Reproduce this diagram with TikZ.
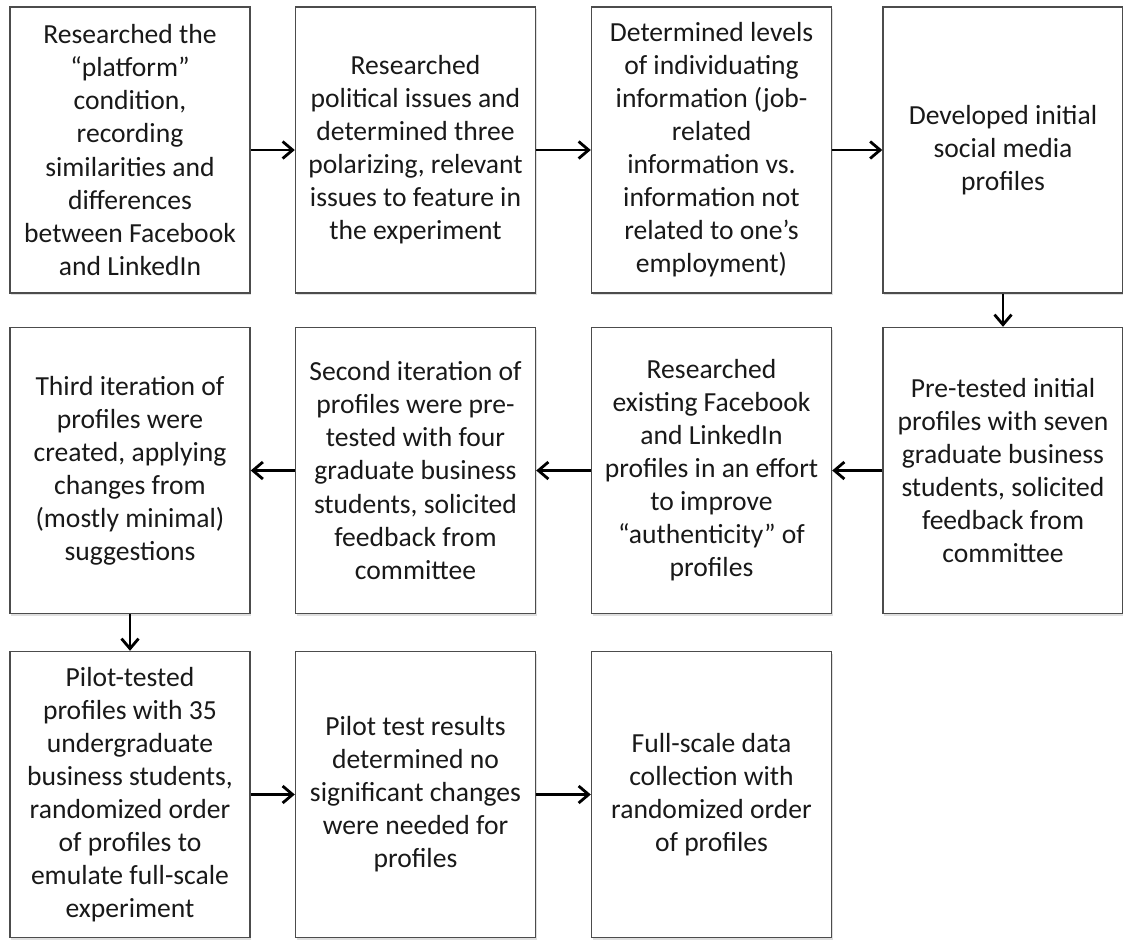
\documentclass[tikz,border=0pt]{standalone}
\usepackage{fontspec}
\setmainfont{Carlito}
\usetikzlibrary{arrows.meta,shadows}

\tikzset{
  stage/.style={draw=black!70, line width=0.8pt, fill=white,
    minimum width=4.8cm, minimum height=5.72cm, align=center,
    text=black!90, font=\fontsize{15.7}{18.8}\selectfont,
    drop shadow={shadow xshift=0.02cm, shadow yshift=-0.04cm, opacity=0.25}},
  flow/.style={line width=1.6pt, -{Straight Barb[length=0.2cm,width=0.34cm]}}
}

\begin{document}
\begin{tikzpicture}
    \useasboundingbox (0,0) rectangle (22.46,-18.78);

    % Top row
    \node[stage] (research) at (2.6,-3) {Researched the\\“platform”\\condition,\\recording\\similarities and\\differences\\between Facebook\\and LinkedIn};
    \node[stage] (issues) at (8.31,-3) {Researched\\political issues and\\determined three\\polarizing, relevant\\issues to feature in\\the experiment};
    \node[stage] (levels) at (14.23,-3) {Determined levels\\of individuating\\information (job-\\related\\information vs.\\information not\\related to one’s\\employment)};
    \node[stage] (develop) at (20.06,-3) {Developed initial\\social media\\profiles};

    % Middle row
    \node[stage] (pretest) at (20.06,-9.41) {Pre-tested initial\\profiles with seven\\graduate business\\students, solicited\\feedback from\\committee};
    \node[stage] (authentic) at (14.23,-9.41) {Researched\\existing Facebook\\and LinkedIn\\profiles in an effort\\to improve\\“authenticity” of\\profiles};
    \node[stage] (second) at (8.31,-9.41) {Second iteration of\\profiles were pre-\\tested with four\\graduate business\\students, solicited\\feedback from\\committee};
    \node[stage] (third) at (2.6,-9.41) {Third iteration of\\profiles were\\created, applying\\changes from\\(mostly minimal)\\suggestions};

    % Bottom row
    \node[stage] (pilot) at (2.6,-15.89) {Pilot-tested\\profiles with 35\\undergraduate\\business students,\\randomized order\\of profiles to\\emulate full-scale\\experiment};
    \node[stage] (results) at (8.31,-15.89) {Pilot test results\\determined no\\significant changes\\were needed for\\profiles};
    \node[stage] (fullscale) at (14.23,-15.89) {Full-scale data\\collection with\\randomized order\\of profiles};

    % Connectors
    \draw[flow] (research) -- (issues);
    \draw[flow] (issues) -- (levels);
    \draw[flow] (levels) -- (develop);
    \draw[flow] (develop) -- (pretest);
    \draw[flow] (pretest) -- (authentic);
    \draw[flow] (authentic) -- (second);
    \draw[flow] (second) -- (third);
    \draw[flow] (third) -- (pilot);
    \draw[flow] (pilot) -- (results);
    \draw[flow] (results) -- (fullscale);
\end{tikzpicture}
\end{document}
